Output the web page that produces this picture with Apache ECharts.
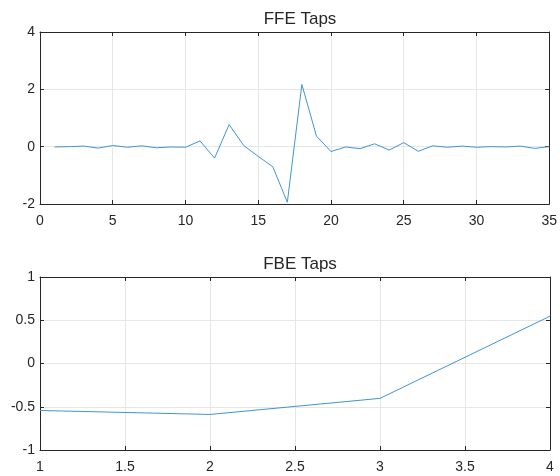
<!DOCTYPE html>
<html>
<head>
<meta charset="utf-8">
<script src="https://cdn.jsdelivr.net/npm/echarts@6/dist/echarts.min.js"></script>
<style>
  html, body { margin: 0; padding: 0; background: #fff; }
  #chart { width: 560px; height: 476px; }
</style>
</head>
<body>
<div id="chart"></div>
<script>
// Feed-forward equalizer tap weights (tap index 1..35)
const ffeTapIndex = Array.from({ length: 35 }, (_, i) => i + 1);
const ffeTaps = [
  -0.01, 0.00, 0.02, -0.05, 0.04, -0.02, 0.03, -0.04, -0.01, -0.02,
  0.20, -0.40, 0.77, 0.04, -0.34, -0.70, -1.94, 2.17, 0.37, -0.17,
  -0.01, -0.07, 0.10, -0.12, 0.14, -0.16, 0.03, -0.02, 0.02, -0.02,
  0.00, -0.01, 0.02, -0.06, 0.00
];

// Feedback equalizer tap weights (tap index 1..4)
const fbeTapIndex = [1, 2, 3, 4];
const fbeTaps = [-0.543, -0.589, -0.403, 0.547];

const textColor = '#262626';
const lineColor = '#3f95d6';
const gridColor = '#e6e6e6';
const font = 'Liberation Sans, Arial, Helvetica, sans-serif';

function pairs(xs, ys) { return xs.map((x, i) => [x, ys[i]]); }

// Boxed axes with inward ticks on all four sides
function xAxes(gridIndex, min, max, interval) {
  const base = {
    type: 'value', gridIndex, min, max, interval,
    axisLine: { show: true, onZero: false, lineStyle: { color: textColor, width: 1 } },
    axisTick: { show: true, inside: true, length: 4, lineStyle: { color: textColor } }
  };
  return [
    Object.assign({}, base, {
      position: 'bottom',
      axisLabel: { color: textColor, fontSize: 14, fontFamily: font, margin: 10 },
      splitLine: { show: true, lineStyle: { color: gridColor, width: 1 } }
    }),
    Object.assign({}, base, {
      position: 'top',
      axisLabel: { show: false },
      splitLine: { show: false }
    })
  ];
}
function yAxes(gridIndex, min, max, interval) {
  const base = {
    type: 'value', gridIndex, min, max, interval,
    axisLine: { show: true, onZero: false, lineStyle: { color: textColor, width: 1 } },
    axisTick: { show: true, inside: true, length: 4, lineStyle: { color: textColor } }
  };
  return [
    Object.assign({}, base, {
      position: 'left',
      axisLabel: { color: textColor, fontSize: 14, fontFamily: font, margin: 5 },
      splitLine: { show: true, lineStyle: { color: gridColor, width: 1 } }
    }),
    Object.assign({}, base, {
      position: 'right',
      axisLabel: { show: false },
      splitLine: { show: false }
    })
  ];
}

const chart = echarts.init(document.getElementById('chart'), null, { renderer: 'canvas' });
chart.setOption({
  animation: false,
  backgroundColor: '#ffffff',
  title: [
    { text: 'FFE Taps', left: 295, top: 6, textAlign: 'center',
      textStyle: { color: textColor, fontSize: 17, fontWeight: 'normal', fontFamily: font } },
    { text: 'FBE Taps', left: 295, top: 251, textAlign: 'center',
      textStyle: { color: textColor, fontSize: 17, fontWeight: 'normal', fontFamily: font } }
  ],
  grid: [
    { left: 40, top: 32, width: 511, height: 172 },
    { left: 40, top: 277, width: 510, height: 173 }
  ],
  xAxis: [].concat(xAxes(0, 0, 35, 5), xAxes(1, 1, 4, 0.5)),
  yAxis: [].concat(yAxes(0, -2, 4, 2), yAxes(1, -1, 1, 0.5)),
  series: [
    {
      type: 'line', xAxisIndex: 0, yAxisIndex: 0,
      data: pairs(ffeTapIndex, ffeTaps),
      showSymbol: false, lineStyle: { color: lineColor, width: 1 }
    },
    {
      type: 'line', xAxisIndex: 2, yAxisIndex: 2,
      data: pairs(fbeTapIndex, fbeTaps),
      showSymbol: false, lineStyle: { color: lineColor, width: 1 }
    }
  ]
});
</script>
</body>
</html>
